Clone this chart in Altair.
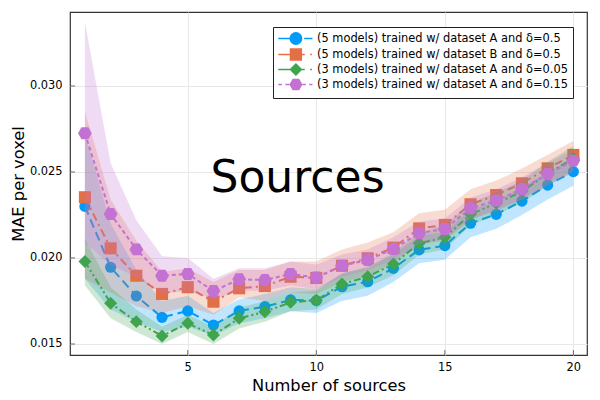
import altair as alt
import pandas as pd

# ---------------- data ----------------
sources = list(range(1, 21))

series_names = [
    "(5 models) trained w/ dataset A and δ=0.5",
    "(5 models) trained w/ dataset B and δ=0.5",
    "(3 models) trained w/ dataset A and δ=0.05",
    "(3 models) trained w/ dataset A and δ=0.15",
]
colors = ["#009AFA", "#E36F47", "#3EA44E", "#C371D2"]

blue_mean = [0.02300, 0.01946, 0.01779, 0.01655, 0.01692, 0.01610, 0.01692, 0.01717, 0.01756, 0.01752,
             0.01833, 0.01862, 0.01940, 0.02047, 0.02072, 0.02202, 0.02254, 0.02331, 0.02424, 0.02502]
blue_lo = [0.0188, 0.0170, 0.0163, 0.0157, 0.0160, 0.0155, 0.0162, 0.0165, 0.0169, 0.0168,
           0.0175, 0.0178, 0.0186, 0.0197, 0.0199, 0.0212, 0.0217, 0.0225, 0.0234, 0.0242]
blue_hi = [0.0272, 0.0220, 0.0193, 0.0175, 0.0178, 0.0168, 0.0176, 0.0179, 0.0183, 0.0182,
           0.0191, 0.0194, 0.0202, 0.0213, 0.0215, 0.0228, 0.0233, 0.0241, 0.0250, 0.0258]

orange_mean = [0.02353, 0.02056, 0.01897, 0.01791, 0.01830, 0.01746, 0.01824, 0.01837, 0.01891, 0.01884,
               0.01955, 0.01998, 0.02060, 0.02172, 0.02192, 0.02312, 0.02366, 0.02434, 0.02521, 0.02599]
orange_lo = [0.0188, 0.0180, 0.0172, 0.0168, 0.0172, 0.0167, 0.0177, 0.0175, 0.0180, 0.0179,
             0.0186, 0.0190, 0.0197, 0.0208, 0.0210, 0.0222, 0.0228, 0.0234, 0.0243, 0.0251]
orange_hi = [0.0285, 0.0234, 0.0210, 0.0192, 0.0194, 0.0186, 0.0193, 0.0193, 0.0198, 0.0198,
             0.0205, 0.0209, 0.0215, 0.0226, 0.0228, 0.0240, 0.0245, 0.0252, 0.0260, 0.0268]

green_mean = [0.01979, 0.01737, 0.01630, 0.01547, 0.01620, 0.01552, 0.01649, 0.01688, 0.01742, 0.01754,
              0.01849, 0.01891, 0.01965, 0.02085, 0.02120, 0.02254, 0.02318, 0.02386, 0.02492, 0.02579]
green_lo = [0.0184, 0.0165, 0.0157, 0.0150, 0.0157, 0.0150, 0.0159, 0.0163, 0.0169, 0.0170,
            0.0179, 0.0183, 0.0190, 0.0202, 0.0205, 0.0219, 0.0225, 0.0232, 0.0242, 0.0250]
green_hi = [0.0211, 0.0183, 0.0170, 0.0160, 0.0167, 0.0160, 0.0171, 0.0175, 0.0180, 0.0181,
            0.0191, 0.0195, 0.0203, 0.0215, 0.0219, 0.0232, 0.0238, 0.0245, 0.0256, 0.0265]

purple_mean = [0.02725, 0.02256, 0.02050, 0.01897, 0.01907, 0.01808, 0.01876, 0.01872, 0.01907, 0.01887,
               0.01955, 0.01988, 0.02052, 0.02144, 0.02169, 0.02289, 0.02334, 0.02401, 0.02488, 0.02566]
purple_lo = [0.0209, 0.0196, 0.0189, 0.0179, 0.0181, 0.0176, 0.0181, 0.0181, 0.0184, 0.0182,
             0.0189, 0.0193, 0.0199, 0.0208, 0.0211, 0.0223, 0.0227, 0.0234, 0.0242, 0.0250]
purple_hi = [0.0337, 0.0255, 0.0222, 0.0201, 0.0200, 0.0188, 0.0194, 0.0194, 0.0198, 0.0196,
             0.0202, 0.0205, 0.0212, 0.0221, 0.0223, 0.0235, 0.0240, 0.0247, 0.0255, 0.0263]

x_ticks = [5, 10, 15, 20]
y_ticks = [0.015, 0.020, 0.025, 0.030]

annot_x = [9.27]
annot_y = [0.02384]
annot_text = ["Sources"]

# ---------------- styles ----------------
dashes = [[9, 5], [8, 4, 2, 4], [7, 3, 2, 3, 2, 3], [4, 3]]
hexagon = "M-1,0L-0.5,-0.866L0.5,-0.866L1,0L0.5,0.866L-0.5,0.866Z"
shapes = ["circle", "square", "diamond", hexagon]
sizes = [125, 190, 170, 200]

circ = "M3,0C3,0.552,2.552,1,2,1C1.448,1,1,0.552,1,0C1,-0.552,1.448,-1,2,-1C2.552,-1,3,-0.552,3,0Z"
legend_paths = [
    "M-1.1,0H1M3.45,0H4.9" + circ,
    "M-1.1,0H1M3.05,0H3.55M4.5,0H4.8M1.05,-0.95H2.95V0.95H1.05Z",
    "M-1.1,0H1.1M2.9,0H3.55M4.5,0H4.8M2,-0.95L2.95,0L2,0.95L1.05,0Z",
    "M-1.1,0H-0.45M0.15,0H0.85M3.15,0H3.75M4.35,0H4.9M1,0L1.5,-0.87L2.5,-0.87L3,0L2.5,0.87L1.5,0.87Z",
]

rows = []
for name, m, lo, hi in zip(series_names,
                           [blue_mean, orange_mean, green_mean, purple_mean],
                           [blue_lo, orange_lo, green_lo, purple_lo],
                           [blue_hi, orange_hi, green_hi, purple_hi]):
    for xv, mv, lv, hv in zip(sources, m, lo, hi):
        rows.append({"series": name, "x": xv, "mean": mv, "lo": lv, "hi": hv})
df = pd.DataFrame(rows)

xdom = [0.42, 20.53]
ydom = [0.01436, 0.0343]

X = alt.X("x:Q", scale=alt.Scale(domain=xdom, nice=False, zero=False),
          axis=alt.Axis(values=x_ticks, format="d", title="Number of sources"))
Y = alt.Y("mean:Q", scale=alt.Scale(domain=ydom, nice=False, zero=False),
          axis=alt.Axis(values=y_ticks, format=".3f", title="MAE per voxel"))

cscale = alt.Scale(domain=series_names, range=colors)
color = alt.Color("series:N", scale=cscale, legend=None)

base = alt.Chart(df)
layers = []
for name in series_names:
    f = alt.datum.series == name
    band = base.mark_area(opacity=0.25).encode(
        x=X, y=alt.Y("lo:Q", scale=alt.Scale(domain=ydom, nice=False, zero=False)),
        y2="hi:Q", color=color).transform_filter(f)
    line = base.mark_line(strokeWidth=2).encode(
        x=X, y=Y, color=color,
        strokeDash=alt.StrokeDash("series:N", scale=alt.Scale(domain=series_names, range=dashes),
                                  legend=None)).transform_filter(f)
    pts = base.mark_point(filled=True, opacity=1).encode(
        x=X, y=Y, color=color,
        shape=alt.Shape("series:N", scale=alt.Scale(domain=series_names, range=shapes), legend=None),
        size=alt.Size("series:N", scale=alt.Scale(domain=series_names, range=sizes), legend=None),
    ).transform_filter(f)
    layers += [band, line, pts]

xt = alt.Chart(pd.DataFrame({"t": x_ticks})).mark_tick(color="#333333", thickness=1).encode(
    x=alt.X("t:Q"), y=alt.value(340.5), size=alt.value(5))
yt = alt.Chart(pd.DataFrame({"t": y_ticks})).mark_tick(color="#333333", thickness=1).encode(
    y=alt.Y("t:Q"), x=alt.value(2.5), size=alt.value(5))

annot = alt.Chart(pd.DataFrame({"x": annot_x, "y": annot_y, "text": annot_text})).mark_text(
    font="DejaVu Sans", fontSize=44, align="center", baseline="alphabetic", color="black"
).encode(x="x:Q", y="y:Q", text="text:N")

main = alt.layer(*layers, xt, yt, annot)

leg_df = pd.DataFrame({"lbl": series_names})
leg = alt.Legend(title=None, orient="none", legendX=203, legendY=15,
                 fillColor="white", strokeColor="#222222", padding=5, rowPadding=-12,
                 labelFont="DejaVu Sans", labelFontSize=11.4, labelColor="black",
                 labelLimit=0, labelOffset=26, symbolSize=130, symbolStrokeWidth=1.5,
                 symbolOpacity=1, cornerRadius=0)
lscale_c = alt.Scale(domain=series_names, range=colors)
legend_layer = alt.Chart(leg_df).mark_point(filled=False, strokeWidth=1.5, opacity=1,
                                            fillOpacity=1, strokeOpacity=1).encode(
    x=alt.value(-300), y=alt.value(-300),
    color=alt.Color("lbl:N", scale=lscale_c, legend=leg, sort=series_names),
    fill=alt.Fill("lbl:N", scale=lscale_c, legend=leg, sort=series_names),
    shape=alt.Shape("lbl:N", scale=alt.Scale(domain=series_names, range=legend_paths),
                    legend=leg, sort=series_names),
)

chart = alt.layer(main, legend_layer).resolve_scale(
    color="independent", fill="independent", shape="independent"
).properties(
    width=517, height=343,
    padding={"left": 62, "top": 4, "right": 5, "bottom": 45},
    autosize=alt.AutoSizeParams(type="none"),
).configure_view(
    stroke="#333333", strokeWidth=1.2
).configure_axis(
    domain=False, ticks=False, grid=True, gridColor="#e8e8e8", gridWidth=1,
    labelFont="DejaVu Sans", labelFontSize=11.4, labelColor="black",
    titleFont="DejaVu Sans", titleFontSize=16.3, titleFontWeight="normal", titleColor="black",
).configure_axisX(labelPadding=6, titlePadding=5).configure_axisY(labelPadding=8, titlePadding=3)

chart.save("out.html", embed_options={"renderer": "svg", "actions": False})
